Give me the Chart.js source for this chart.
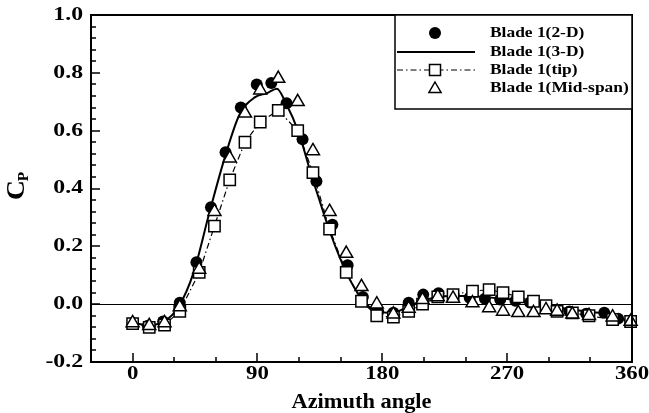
<!DOCTYPE html>
<html lang="en">
<head>
    <meta charset="UTF-8">
    <title>Blade 1 Cp vs azimuth</title>
    <script src="https://cdn.jsdelivr.net/npm/chart.js"></script>
    <style>
        body { margin: 0; background: #fff; }
        #wrap { width: 649px; height: 413px; }
    </style>
</head>
<body>
    <div id="wrap"><canvas id="chart1" width="649" height="413"></canvas></div>
    <script>
        // data
        const angle2d = [0, 11, 22, 34, 46, 56.5, 67, 78, 89.5, 100, 111, 122.5, 132.5, 144, 155, 166, 177, 188, 199, 209.5, 220.5, 231.5, 243, 254, 265, 276, 286.5, 298.5, 306.5, 315, 327, 340, 350, 359];
        const cp2d = [-0.065, -0.075, -0.06, 0.005, 0.145, 0.335, 0.525, 0.68, 0.76, 0.765, 0.695, 0.57, 0.425, 0.275, 0.135, 0.025, -0.025, -0.03, 0.005, 0.033, 0.038, 0.03, 0.022, 0.019, 0.016, 0.012, 0.006, -0.008, -0.02, -0.025, -0.033, -0.03, -0.05, -0.062];

        const angle3d = [0, 12, 23, 34, 48, 59, 70, 81, 92, 105, 119, 130, 142, 154, 165, 176, 188, 199, 209, 220, 231, 245, 257, 267, 278, 289, 298, 306, 317, 329, 346, 359];
        const cpTip = [-0.067, -0.08, -0.072, -0.025, 0.11, 0.27, 0.43, 0.56, 0.63, 0.67, 0.60, 0.455, 0.26, 0.11, 0.01, -0.04, -0.045, -0.025, 0.0, 0.025, 0.033, 0.045, 0.05, 0.04, 0.025, 0.01, -0.005, -0.025, -0.03, -0.04, -0.053, -0.06];
        const cpMid = [-0.065, -0.075, -0.065, -0.01, 0.12, 0.32, 0.505, 0.66, 0.74, 0.78, 0.70, 0.53, 0.32, 0.175, 0.06, 0.0, -0.035, -0.015, 0.015, 0.025, 0.02, 0.004, -0.013, -0.025, -0.03, -0.03, -0.02, -0.025, -0.035, -0.04, -0.045, -0.06];

        const angleLine = [0, 11, 22, 33, 44, 55, 66, 77, 88, 97, 104, 110, 120, 128, 134, 143, 154, 165, 176, 187, 198, 209, 220, 231, 242, 253, 264, 275, 286, 297, 308, 319, 330, 341, 352, 360];
        const cp3d = [-0.065, -0.072, -0.062, -0.01, 0.11, 0.31, 0.5, 0.655, 0.715, 0.73, 0.745, 0.70, 0.59, 0.46, 0.37, 0.24, 0.11, 0.02, -0.025, -0.03, -0.01, 0.012, 0.024, 0.028, 0.028, 0.025, 0.02, 0.015, 0.008, 0.0, -0.012, -0.02, -0.027, -0.033, -0.05, -0.062];

        const xTicks = [0, 90, 180, 270, 360];
        const yTicks = [-0.2, 0, 0.2, 0.4, 0.6, 0.8, 1.0];
        const legendLabels = ['Blade 1(2-D)', 'Blade 1(3-D)', 'Blade 1(tip)', 'Blade 1(Mid-span)'];

        const FONT = '"Liberation Serif", "Times New Roman", serif';

        function pts(xs, ys) {
            return xs.map((x, i) => ({ x: x, y: ys[i] }));
        }

        // bold serif text, a little wider than normal like the original
        function txt(ctx, s, x, y, size, align, sx) {
            ctx.save();
            ctx.font = 'bold ' + size + 'px ' + FONT;
            ctx.textAlign = align;
            ctx.textBaseline = 'middle';
            ctx.fillStyle = '#000';
            ctx.translate(x, y);
            ctx.scale(sx, 1);
            ctx.fillText(s, 0, 0);
            ctx.restore();
        }

        function square(ctx, x, y, h) {
            ctx.fillStyle = '#fff';
            ctx.fillRect(x - h, y - h, 2 * h, 2 * h);
            ctx.strokeRect(x - h, y - h, 2 * h, 2 * h);
        }

        function triangle(ctx, x, y, r) {
            ctx.beginPath();
            ctx.moveTo(x, y - r);
            ctx.lineTo(x + r * 0.866, y + r * 0.5);
            ctx.lineTo(x - r * 0.866, y + r * 0.5);
            ctx.closePath();
            ctx.fillStyle = '#fff';
            ctx.fill();
            ctx.stroke();
        }

        // zero line under the marks
        const zeroLine = {
            id: 'zeroLine',
            beforeDatasetsDraw(chart) {
                const ctx = chart.ctx, a = chart.chartArea;
                const y0 = Math.round(chart.scales.y.getPixelForValue(0)) + 0.5;
                ctx.save();
                ctx.strokeStyle = '#000';
                ctx.lineWidth = 1;
                ctx.beginPath();
                ctx.moveTo(a.left, y0);
                ctx.lineTo(a.right, y0);
                ctx.stroke();
                ctx.restore();
            }
        };

        // frame, inward ticks, labels, titles and the boxed legend
        const frame = {
            id: 'frame',
            afterDatasetsDraw(chart) {
                const ctx = chart.ctx, a = chart.chartArea;
                const xs = chart.scales.x, ys = chart.scales.y;
                ctx.save();
                ctx.strokeStyle = '#000';
                ctx.lineWidth = 2;
                ctx.strokeRect(a.left, a.top, a.right - a.left, a.bottom - a.top);

                ctx.lineWidth = 1.5;
                ctx.beginPath();
                for (let v = -30; v <= 360; v += 30) {
                    const px = Math.round(xs.getPixelForValue(v));
                    const len = xTicks.includes(v) ? 9 : 5;
                    ctx.moveTo(px, a.bottom);
                    ctx.lineTo(px, a.bottom - len);
                }
                for (let k = 0; k <= 30; k++) {
                    const v = -0.2 + k * 0.04;
                    const py = Math.round(ys.getPixelForValue(v));
                    const len = (k % 5 === 0) ? 9 : 5;
                    ctx.moveTo(a.left, py);
                    ctx.lineTo(a.left + len, py);
                }
                ctx.stroke();

                xTicks.forEach(v => txt(ctx, String(v), xs.getPixelForValue(v), a.bottom + 12, 19, 'center', 1.2));
                yTicks.forEach(v => txt(ctx, v.toFixed(1), a.left - 8, ys.getPixelForValue(v), 19, 'right', 1.25));

                txt(ctx, 'Azimuth angle', (a.left + a.right) / 2, 403, 20, 'center', 1.12);

                // C_P rotated
                ctx.save();
                ctx.translate(24, 200);
                ctx.rotate(-Math.PI / 2);
                ctx.font = 'bold 25px ' + FONT;
                ctx.textBaseline = 'alphabetic';
                ctx.textAlign = 'left';
                ctx.fillStyle = '#000';
                ctx.scale(1.1, 1);
                ctx.fillText('C', 0, 0);
                ctx.font = 'bold 14px ' + FONT;
                ctx.fillText('P', 17, 4);
                ctx.restore();

                // legend box
                const bx = 395, by = 15, bw = a.right - bx, bh = 94;
                ctx.fillStyle = '#fff';
                ctx.fillRect(bx, by, bw, bh);
                ctx.lineWidth = 1.5;
                ctx.strokeRect(bx, by, bw, bh);
                const rows = [33, 52, 70, 88];
                const cx = 435;
                ctx.fillStyle = '#000';
                ctx.beginPath();
                ctx.arc(cx, rows[0], 6, 0, Math.PI * 2);
                ctx.fill();

                ctx.lineWidth = 2;
                ctx.beginPath();
                ctx.moveTo(397, rows[1]);
                ctx.lineTo(475, rows[1]);
                ctx.stroke();

                ctx.lineWidth = 1.2;
                ctx.setLineDash([6, 3, 1.5, 3]);
                ctx.beginPath();
                ctx.moveTo(397, rows[2]);
                ctx.lineTo(475, rows[2]);
                ctx.stroke();
                ctx.setLineDash([]);
                ctx.lineWidth = 1.5;
                square(ctx, cx, rows[2], 5.5);
                triangle(ctx, cx, rows[3] + 1, 7);

                legendLabels.forEach((s, i) => txt(ctx, s, 490, rows[i], 15, 'left', 1.16));
                ctx.restore();
            }
        };

        const ctx1 = document.getElementById('chart1').getContext('2d');
        new Chart(ctx1, {
            type: 'scatter',
            data: {
                datasets: [{
                    label: legendLabels[0],
                    data: pts(angle2d, cp2d),
                    pointStyle: 'circle',
                    pointRadius: 6,
                    backgroundColor: '#000',
                    borderColor: '#000',
                    borderWidth: 0,
                    showLine: false,
                    order: 3
                }, {
                    label: legendLabels[1],
                    data: pts(angleLine, cp3d),
                    showLine: true,
                    pointRadius: 0,
                    borderColor: '#000',
                    borderWidth: 2,
                    cubicInterpolationMode: 'monotone',
                    order: 2
                }, {
                    label: legendLabels[2],
                    data: pts(angle3d, cpTip),
                    showLine: true,
                    borderDash: [6, 3, 1.5, 3],
                    borderColor: '#000',
                    borderWidth: 1.2,
                    pointStyle: 'rect',
                    pointRadius: 8,
                    pointBorderWidth: 1.5,
                    pointBackgroundColor: '#fff',
                    pointBorderColor: '#000',
                    order: 1
                }, {
                    label: legendLabels[3],
                    data: pts(angle3d, cpMid),
                    showLine: false,
                    pointStyle: 'triangle',
                    pointRadius: 7.5,
                    pointBorderWidth: 1.5,
                    pointBackgroundColor: '#fff',
                    pointBorderColor: '#000',
                    order: 0
                }]
            },
            options: {
                responsive: false,
                animation: false,
                devicePixelRatio: 1,
                layout: { padding: { left: 91, top: 15, right: 17, bottom: 51 } },
                clip: false,
                plugins: { legend: { display: false }, tooltip: { enabled: false } },
                scales: {
                    x: { type: 'linear', min: -30, max: 360, display: false },
                    y: { type: 'linear', min: -0.2, max: 1.0, display: false }
                }
            },
            plugins: [zeroLine, frame]
        });
    </script>
</body>
</html>
